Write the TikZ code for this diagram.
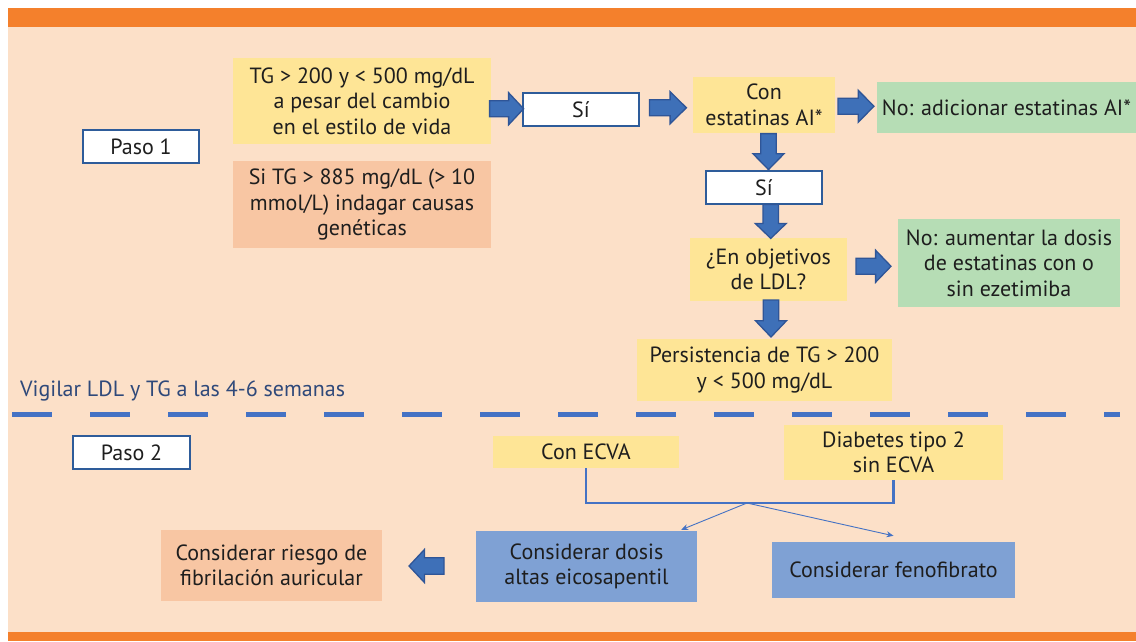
\documentclass[tikz,border=0pt]{standalone}
\usepackage{fontspec}
\setmainfont{PT Sans}
\usetikzlibrary{calc,arrows.meta}
\definecolor{peach}{RGB}{252,224,200}
\definecolor{orangebar}{RGB}{244,128,44}
\definecolor{yell}{RGB}{254,229,150}
\definecolor{salmon}{RGB}{248,198,163}
\definecolor{greenbox}{RGB}{182,221,181}
\definecolor{bluebox}{RGB}{127,161,212}
\definecolor{arrowfill}{RGB}{62,112,184}
\definecolor{arrowedge}{RGB}{47,85,151}
\definecolor{boxedge}{RGB}{46,92,154}
\definecolor{dashblue}{RGB}{68,114,196}
\definecolor{txt}{RGB}{30,30,30}
\definecolor{vigtxt}{RGB}{47,73,122}
\tikzset{
  base/.style={inner sep=0pt, align=center, text=txt, font=\fontsize{22}{25.5}\selectfont},
  fillbox/.style={base, fill=#1},
  stepbox/.style={base, fill=white, draw=boxedge, line width=2pt},
  barrowstyle/.style={fill=arrowfill, draw=arrowedge, line width=1.3pt, line join=miter},
  pics/barrow/.style 2 args={code={
    \path[barrowstyle] ({-#1/2},{-#2/4}) -- ({#1/2-0.44*#1},{-#2/4}) -- ({#1/2-0.44*#1},{-#2/2}) -- ({#1/2},0)
      -- ({#1/2-0.44*#1},{#2/2}) -- ({#1/2-0.44*#1},{#2/4}) -- ({-#1/2},{#2/4}) -- cycle;}},
  bracket/.style={draw=dashblue, line width=2.6pt},
  thin/.style={draw=dashblue, line width=0.9pt, -{Stealth[length=7pt,width=6pt]}},
  dashline/.style={draw=dashblue, line width=5pt, dash pattern=on 40pt off 38pt},
}
\begin{document}
\begin{tikzpicture}[x=1pt,y=-1pt]
\useasboundingbox (0,0) rectangle (1136,641);
\fill[white] (0,0) rectangle (1136,641);
\fill[peach] (8,8) rectangle (1136,641);
\fill[orangebar] (8,8) rectangle (1136,27);
\fill[orangebar] (8,632) rectangle (1136,641);

% Paso 1
\node[stepbox, minimum width=116pt, minimum height=33pt] (paso1) at (141,146.5) {Paso 1};
\node[fillbox=yell, minimum width=258pt, minimum height=86pt] (tg) at (362,101) {TG > 200 y < 500 mg/dL\\a pesar del cambio\\en el estilo de vida};
\node[fillbox=salmon, minimum width=258pt, minimum height=87pt] (sitg) at (362,204.5) {Si TG > 885 mg/dL (> 10\\mmol/L) indagar causas\\genéticas};
\node[stepbox, minimum width=116pt, minimum height=33pt] (si1) at (581,109.5) {Sí};
\node[fillbox=yell, minimum width=142pt, minimum height=56pt] (con) at (764,105) {Con\\estatinas AI*};
\node[fillbox=greenbox, minimum width=259pt, minimum height=51pt] (noadic) at (1006.5,107.5) {No: adicionar estatinas AI*};
\node[stepbox, minimum width=116pt, minimum height=33pt] (si2) at (764,187.5) {Sí};
\node[fillbox=yell, minimum width=157pt, minimum height=63pt] (enobj) at (768.5,269.5) {¿En objetivos\\de LDL?};
\node[fillbox=greenbox, minimum width=222pt, minimum height=88pt] (noaum) at (1009,263) {No: aumentar la dosis\\de estatinas con o\\sin ezetimiba};
\node[fillbox=yell, minimum width=255pt, minimum height=62pt] (persist) at (764.5,370) {Persistencia de TG > 200\\y < 500 mg/dL};

% block arrows
\pic at ($(tg.east)!0.5!(si1.west)+(0,3.5)$) {barrow={34}{32}};
\pic at ($(si1.east)!0.5!(con.west)+(1.5,0.5)$) {barrow={37}{32}};
\pic at ($(con.east)!0.5!(noadic.west)$) {barrow={36}{32}};
\pic[rotate=-90] at ($(con.south)!0.5!(si2.north)+(4.5,0)$) {barrow={36}{31}};
\pic[rotate=-90] at ($(si2.south)!0.5!(enobj.north)+(4.5,0)$) {barrow={34}{31}};
\pic at ($(enobj.east)!0.5!(noaum.west)+(1,0)$) {barrow={35}{32}};
\pic[rotate=-90] at ($(enobj.south)!0.5!(persist.north)+(4.5,-1.5)$) {barrow={37}{31}};

% separator
\node[base, text=vigtxt, anchor=base west] (vig) at (20,396) {Vigilar LDL y TG a las 4-6 semanas};
\coordinate (dl) at (12,414.5);
\coordinate (dr) at (1120,414.5);
\draw[dashline] (dl) -- (dr);

% Paso 2
\node[stepbox, minimum width=117pt, minimum height=33pt] (paso2) at (131.5,452.5) {Paso 2};
\node[fillbox=yell, minimum width=186pt, minimum height=32pt] (conecva) at (586,452) {Con ECVA};
\node[fillbox=yell, minimum width=219pt, minimum height=55pt] (diab) at (893.5,452.5) {Diabetes tipo 2\\sin ECVA};
\node[fillbox=bluebox, minimum width=221pt, minimum height=71pt] (dosis) at (586.5,566.5) {Considerar dosis\\altas eicosapentil};
\node[fillbox=bluebox, minimum width=243pt, minimum height=56pt] (feno) at (893.5,570) {Considerar fenofibrato};
\node[fillbox=salmon, minimum width=221pt, minimum height=71pt] (riesgo) at (271.5,565.5) {Considerar riesgo de\\fibrilación auricular};

\draw[bracket] (conecva.south) -- (conecva.south |- 0,503) -| (diab.south);
\coordinate (split) at (747,503);
\draw[thin] (split) -- ($(dosis.north east)+(-16,-1)$);
\draw[thin] (split) -- ($(feno.north)+(0,-6)$);
\pic[rotate=180] at ($(riesgo.east)!0.5!(dosis.west)+(-2.5,0)$) {barrow={35}{33}};
\end{tikzpicture}
\end{document}
